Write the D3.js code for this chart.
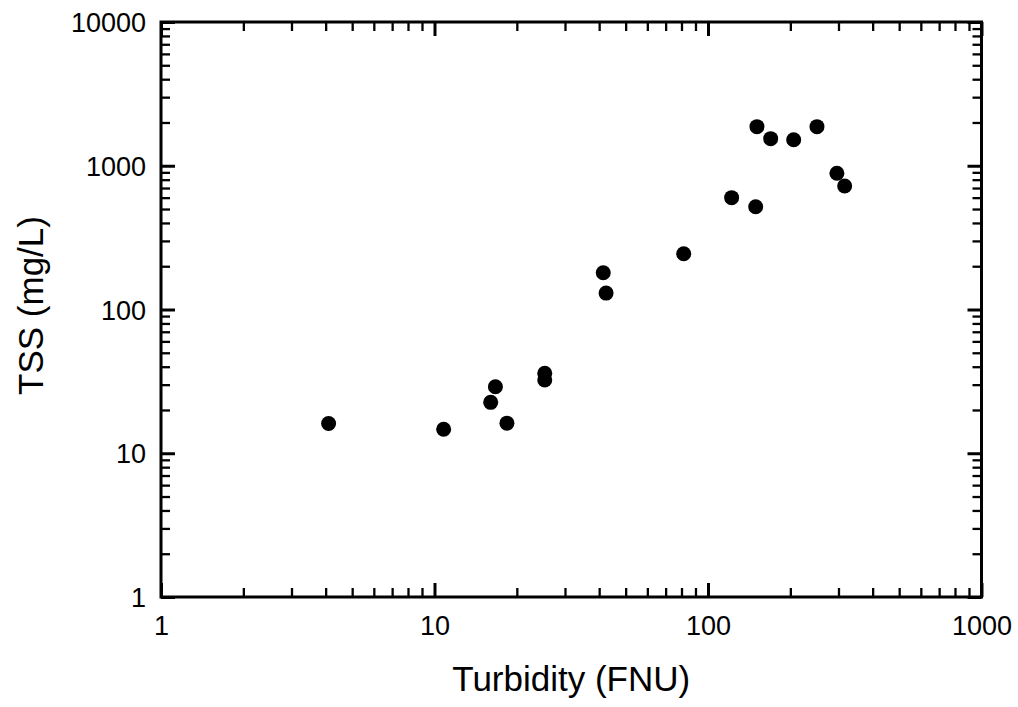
<!DOCTYPE html>
<html>
<head>
<meta charset="utf-8">
<script src="https://cdn.jsdelivr.net/npm/d3@7"></script>
<style>
  body { margin: 0; background: #fff; }
  svg text { font-family: "Liberation Sans", Arial, Helvetica, sans-serif; fill: #000; }
</style>
</head>
<body>
<script>
// data
var turbidity = [4.1, 10.8, 16.05, 16.7, 18.4, 25.3, 25.3, 41.4, 42.4, 81.5, 122, 149.4, 151, 169.5, 205.7, 250.3, 296, 316];
var tss = [16.1, 14.7, 22.6, 29.0, 16.2, 36.0, 32.3, 180, 130, 244, 600, 519, 1870, 1543, 1518, 1870, 886, 723];
var xMajor = [1, 10, 100, 1000];
var yMajor = [1, 10, 100, 1000, 10000];

var margin = {top: 22, right: 36.5, bottom: 110, left: 161},
  width = 1018 - margin.left - margin.right,
  height = 707 - margin.top - margin.bottom;

var svg = d3.select('body')
  .append('svg')
  .attr('width', 1018)
  .attr('height', 707)

var chart = svg.append('g')
  .attr('transform', 'translate(' + margin.left + ',' + margin.top + ')');

var x = d3.scaleLog().domain([1, 1000]).range([0, width]);
var y = d3.scaleLog().domain([1, 10000]).range([height, 0]);

// minor ticks 2..9 in each decade
function minors(majors) {
  var out = [];
  for (var i = 0; i < majors.length - 1; i++)
    for (var k = 2; k < 10; k++) out.push(majors[i] * k);
  return out;
}
var xMinor = minors(xMajor), yMinor = minors(yMajor);

function tickStyle(g, w) {
  g.select('.domain').remove();
  g.selectAll('.tick line').attr('stroke', '#000').attr('stroke-width', w);
}

// bottom
chart.append('g').attr('transform', 'translate(0,' + height + ')')
  .call(d3.axisBottom(x).tickValues(xMinor).tickSize(-9).tickFormat(''))
  .call(tickStyle, 2.3);
chart.append('g').attr('transform', 'translate(0,' + height + ')')
  .call(d3.axisBottom(x).tickValues(xMajor).tickSize(-14).tickFormat(d3.format('d')))
  .call(tickStyle, 3)
  .selectAll('text').attr('font-size', 27).attr('dy', 0).attr('y', 38);
// top
chart.append('g')
  .call(d3.axisTop(x).tickValues(xMinor).tickSize(-9).tickFormat(''))
  .call(tickStyle, 2.3);
chart.append('g')
  .call(d3.axisTop(x).tickValues(xMajor).tickSize(-14).tickFormat(''))
  .call(tickStyle, 3);
// left
chart.append('g')
  .call(d3.axisLeft(y).tickValues(yMinor).tickSize(-9).tickFormat(''))
  .call(tickStyle, 2.3);
chart.append('g')
  .call(d3.axisLeft(y).tickValues(yMajor).tickSize(-14).tickPadding(15).tickFormat(d3.format('d')))
  .call(tickStyle, 3)
  .selectAll('text').attr('font-size', 27).attr('dy', '0.36em');
// right
chart.append('g').attr('transform', 'translate(' + width + ',0)')
  .call(d3.axisRight(y).tickValues(yMinor).tickSize(-9).tickFormat(''))
  .call(tickStyle, 2.3);
chart.append('g').attr('transform', 'translate(' + width + ',0)')
  .call(d3.axisRight(y).tickValues(yMajor).tickSize(-14).tickFormat(''))
  .call(tickStyle, 3);

// frame
chart.append('rect')
  .attr('width', width).attr('height', height)
  .attr('fill', 'none').attr('stroke', '#000').attr('stroke-width', 3);

// points
chart.selectAll('circle.pt')
  .data(turbidity)
  .enter().append('circle')
  .attr('class', 'pt')
  .attr('cx', function(d) { return x(d); })
  .attr('cy', function(d, i) { return y(tss[i]); })
  .attr('r', 7.5)
  .attr('fill', '#000');

// axis titles
svg.append('text')
  .attr('x', margin.left + width / 2).attr('y', 691)
  .attr('text-anchor', 'middle').attr('font-size', 35)
  .text('Turbidity (FNU)');
svg.append('text')
  .attr('transform', 'translate(43,' + (margin.top + height / 2 - 4) + ') rotate(-90)')
  .attr('text-anchor', 'middle').attr('font-size', 35)
  .text('TSS (mg/L)');
</script>
</body>
</html>
